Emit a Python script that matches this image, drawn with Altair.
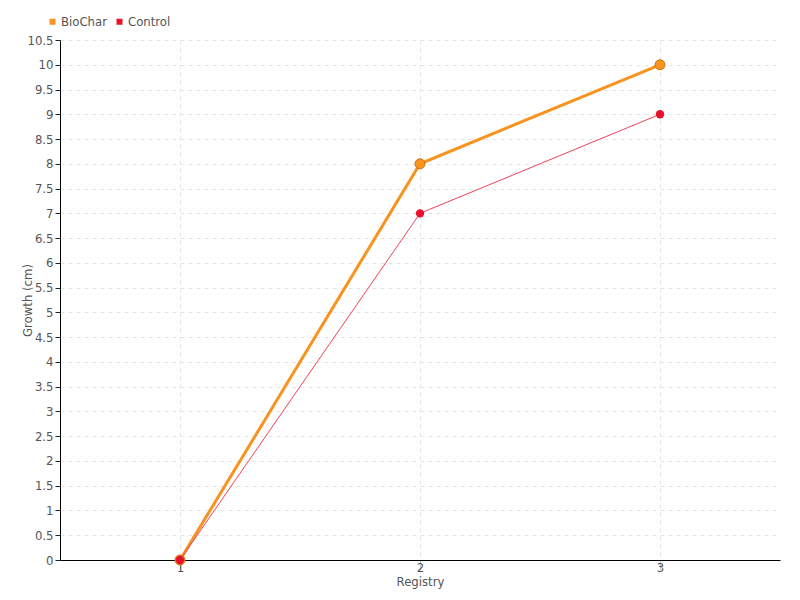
import altair as alt
import pandas as pd

registry = [1, 2, 3]
biochar = [0, 8, 10]
control = [0, 7, 9]
series_names = ["BioChar", "Control"]
y_ticks = [i * 0.5 for i in range(22)]

rows = []
for r, b, c in zip(registry, biochar, control):
    rows.append({"Registry": r, "Growth": b, "Series": "BioChar"})
    rows.append({"Registry": r, "Growth": c, "Series": "Control"})
df = pd.DataFrame(rows)

FONT = "Liberation Sans Narrow, DejaVu Sans Condensed, sans-serif"

x = alt.X("Registry:Q", scale=alt.Scale(domain=[0.5, 3.5], nice=False, zero=False),
          axis=alt.Axis(values=registry, title="Registry", format="d", tickSize=10,
                        tickColor="#c8c8c8", labelPadding=-9, titlePadding=1))
y = alt.Y("Growth:Q", scale=alt.Scale(domain=[0, 10.5], nice=False),
          axis=alt.Axis(values=y_ticks, title="Growth (cm)", format="~g", tickSize=5,
                        tickColor="#222", labelPadding=2,
                        titleX=-33, titleY=260, titleBaseline="middle", titleAlign="center"))

base = alt.Chart(df)

line_b = base.transform_filter(alt.datum.Series == "BioChar").mark_line(
    color="#f7931e", strokeWidth=3).encode(x=x, y=y)
line_c = base.transform_filter(alt.datum.Series == "Control").mark_line(
    color="#f0405a", strokeWidth=1).encode(x=x, y=y)

color = alt.Color("Series:N", scale=alt.Scale(domain=series_names, range=["#f7931e", "#e8102a"]),
                  legend=alt.Legend(title=None, orient="none", legendX=-14, legendY=-25,
                                    direction="horizontal", symbolType="square", symbolSize=36,
                                    symbolStrokeWidth=0,
                                    labelFontSize=13, labelColor="#555", labelFont=FONT,
                                    columnPadding=6, symbolOffset=0, labelOffset=2))

pts_b = base.transform_filter(alt.datum.Series == "BioChar").mark_point(
    filled=True, size=100, stroke="#d07010", strokeWidth=1, opacity=1).encode(
    x=x, y=y, fill=color)
pts_c = base.transform_filter(alt.datum.Series == "Control").mark_point(
    filled=True, size=70, opacity=1).encode(x=x, y=y, fill=color)

chart = alt.layer(line_b, line_c, pts_b, pts_c).properties(
    width=720, height=520,
    autosize=alt.AutoSizeParams(type="none"),
    padding={"left": 52, "top": 32, "right": 12, "bottom": 32},
).configure_axis(
    gridDash=[4, 4], gridColor="#e4e4e4", domainColor="#000",
    labelColor="#555", labelFontSize=13, labelFont=FONT, titleFont=FONT,
    titleFontSize=13, titleColor="#555", titleFontWeight="normal",
).configure_view(stroke=None)

chart.save("out.html", embed_options={"renderer": "svg", "actions": False})
